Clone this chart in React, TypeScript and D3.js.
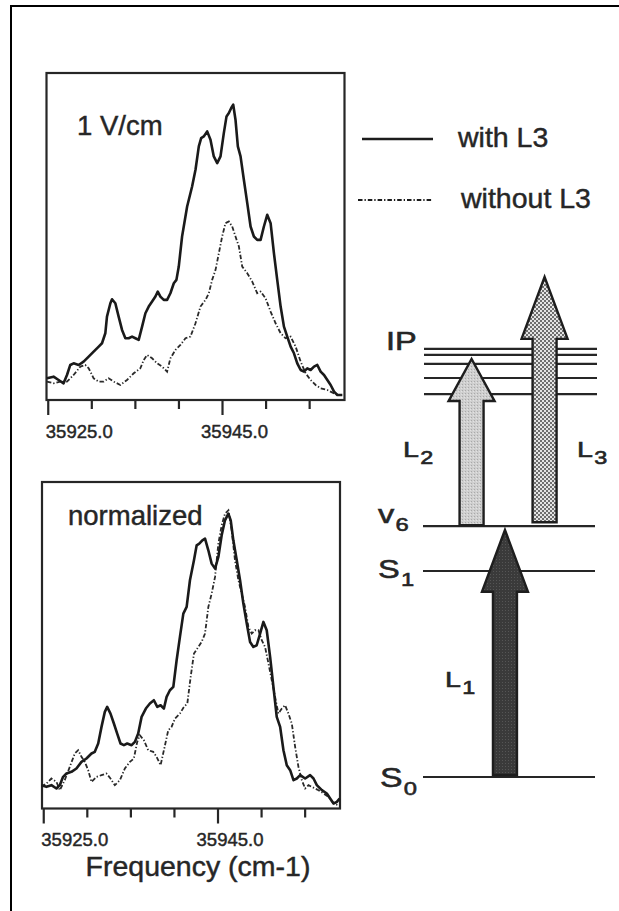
import React from "react";
import * as d3 from "d3";

// ---------- DATA ----------
// [frequency (cm-1), intensity (arb.)]
const topWithL3: [number, number][] = [
  [35924.85, 6.5], [35925.61, 7], [35926.19, 6], [35926.76, 5], [35927.15, 7.5], [35927.53, 10.5], [35927.91, 11], [35928.49, 10.5], [35929.06, 11.5], [35929.64, 13],
  [35930.21, 14.5], [35930.79, 16], [35931.17, 17], [35931.55, 20], [35931.74, 25], [35932.13, 29], [35932.32, 30.2], [35932.70, 29], [35933.08, 25], [35933.47, 21],
  [35933.85, 18.5], [35934.23, 18.5], [35934.62, 19], [35935.00, 18.5], [35935.38, 18], [35935.77, 22], [35936.15, 26], [35936.53, 28], [35936.92, 29.5], [35937.30, 31],
  [35937.57, 32.5], [35937.87, 31], [35938.26, 30], [35938.64, 30], [35939.02, 32], [35939.41, 35], [35939.71, 36], [35939.98, 40], [35940.36, 49], [35940.94, 58],
  [35941.51, 64], [35941.90, 69], [35942.28, 76], [35942.55, 78.5], [35942.85, 79], [35943.24, 80.5], [35943.62, 78], [35944.00, 73], [35944.39, 71], [35944.77, 73],
  [35945.15, 80], [35945.46, 85], [35945.73, 86], [35946.00, 87.5], [35946.23, 88.5], [35946.49, 84], [35946.76, 76], [35947.07, 73], [35947.45, 66], [35947.84, 59],
  [35948.22, 52], [35948.60, 49], [35948.98, 48], [35949.37, 48], [35949.75, 52], [35950.13, 55.5], [35950.52, 53], [35950.90, 44], [35951.28, 36], [35951.67, 28],
  [35952.05, 22], [35952.43, 19], [35952.82, 16], [35953.20, 14], [35953.58, 11], [35953.97, 9], [35954.35, 8.5], [35954.73, 9.5], [35955.11, 9], [35955.50, 10],
  [35955.88, 10.5], [35956.26, 8.5], [35956.65, 7.5], [35957.03, 6], [35957.41, 4.5], [35957.80, 2.5], [35958.18, 1.5], [35958.75, 1.5],
];

const topWithoutL3: [number, number][] = [
  [35924.85, 5.5], [35925.61, 5], [35926.38, 5.5], [35927.15, 5.5], [35927.91, 7.5], [35928.68, 10], [35929.25, 10.5], [35929.64, 9.5], [35930.21, 6.5], [35930.79, 5.5],
  [35931.36, 5.5], [35931.93, 6.5], [35932.51, 5.5], [35933.28, 4.5], [35934.04, 6], [35934.81, 8], [35935.57, 9.5], [35935.96, 12], [35936.34, 13.5], [35936.92, 12.5],
  [35937.49, 11], [35938.07, 10], [35938.64, 8.5], [35939.02, 12.5], [35939.60, 15], [35940.17, 16.5], [35940.75, 18.5], [35941.32, 19], [35941.90, 23], [35942.47, 28],
  [35943.05, 30], [35943.43, 32], [35943.81, 36], [35944.20, 39], [35944.58, 44], [35944.96, 49], [35945.34, 53], [35945.73, 53.5], [35946.11, 52], [35946.49, 49],
  [35946.88, 46], [35947.26, 40], [35947.84, 38], [35948.41, 35.5], [35948.98, 32], [35949.37, 32.5], [35949.94, 30.5], [35950.52, 26.5], [35951.09, 23], [35951.67, 20],
  [35952.24, 18.5], [35952.82, 19], [35953.39, 16], [35953.97, 11.5], [35954.54, 8], [35955.11, 6], [35955.69, 4.5], [35956.26, 3.5], [35957.03, 3], [35957.80, 2],
  [35958.37, 1.5],
];

const normWithL3: [number, number][] = [
  [35924.73, 7], [35925.31, 6.5], [35925.88, 7], [35926.46, 6], [35926.84, 7], [35927.22, 9.5], [35927.61, 10.5], [35928.18, 11], [35928.75, 12], [35929.33, 14],
  [35929.90, 15], [35930.48, 16.5], [35930.86, 17], [35931.25, 19.5], [35931.63, 24.5], [35932.01, 29], [35932.28, 30.5], [35932.66, 28.5], [35933.05, 25.5], [35933.43, 22.5],
  [35933.81, 19.5], [35934.20, 19], [35934.58, 19.5], [35935.08, 19], [35935.46, 20], [35935.84, 22.5], [35936.23, 27.5], [35936.72, 30], [35937.18, 31.5], [35937.64, 32.5],
  [35938.03, 30.5], [35938.41, 31], [35938.79, 30], [35939.10, 33.5], [35939.48, 35.5], [35939.87, 36.5], [35940.25, 44.5], [35940.63, 51.5], [35941.02, 58.5], [35941.40, 60.5],
  [35941.78, 68.5], [35942.24, 74.5], [35942.55, 79], [35942.85, 79.5], [35943.20, 80.5], [35943.51, 81], [35943.89, 77.5], [35944.27, 73.5], [35944.66, 72], [35945.04, 75.5],
  [35945.42, 82], [35945.80, 86.5], [35946.19, 88.5], [35946.46, 86.5], [35946.76, 80.5], [35947.15, 74.5], [35947.53, 68.5], [35947.91, 61.5], [35948.30, 55.5], [35948.68, 50],
  [35949.06, 48.5], [35949.44, 49], [35949.83, 52.5], [35950.21, 56], [35950.59, 53.5], [35950.98, 45.5], [35951.36, 36.5], [35951.74, 27.5], [35952.13, 24.5], [35952.51, 17.5],
  [35952.89, 13], [35953.28, 11.5], [35953.66, 8.5], [35954.04, 9], [35954.43, 10], [35955.00, 9], [35955.57, 10], [35955.96, 9], [35956.34, 7], [35956.92, 5.5],
  [35957.49, 4.5], [35957.87, 3], [35958.26, 1.5], [35958.64, 2], [35958.95, 3],
];

const normWithoutL3: [number, number][] = [
  [35924.73, 6.5], [35925.31, 7.5], [35925.88, 9], [35926.46, 8], [35926.84, 5.5], [35927.41, 8.5], [35927.99, 12.5], [35928.56, 16.5], [35928.95, 17.5], [35929.33, 15.5],
  [35929.71, 14], [35930.10, 11.5], [35930.48, 8], [35931.05, 9.5], [35931.63, 10], [35932.20, 10.5], [35932.66, 9], [35933.16, 7], [35933.74, 8.5], [35934.31, 12],
  [35934.89, 14], [35935.34, 15], [35935.73, 20], [35936.03, 22], [35936.49, 20.5], [35936.99, 17.5], [35937.57, 17], [35937.95, 15.5], [35938.41, 13], [35938.79, 17.5],
  [35939.29, 23.5], [35939.67, 24.5], [35940.06, 27], [35940.63, 28.5], [35941.09, 30.5], [35941.48, 31.5], [35941.86, 39.5], [35942.24, 46.5], [35942.62, 48], [35943.12, 50],
  [35943.51, 52.5], [35943.89, 60.5], [35944.27, 64.5], [35944.66, 69.5], [35945.04, 79.5], [35945.42, 85], [35945.80, 88.5], [35946.19, 89.5], [35946.57, 83.5], [35946.95, 74.5],
  [35947.34, 68.5], [35947.72, 64.5], [35948.10, 60.5], [35948.49, 54.5], [35948.87, 52.5], [35949.25, 53.5], [35949.64, 53.5], [35950.02, 50.5], [35950.40, 48.5], [35950.79, 43.5],
  [35951.17, 38.5], [35951.55, 33.5], [35951.93, 28.5], [35952.32, 30], [35952.70, 31], [35953.08, 28.5], [35953.47, 25.5], [35953.85, 18.5], [35954.23, 12.5], [35954.62, 8.5],
  [35955.00, 6], [35955.38, 7], [35955.77, 6.5], [35956.15, 6], [35956.53, 5.5], [35957.11, 4.5], [35957.68, 3.5], [35958.26, 1.5], [35958.83, 1],
];

const xTicks = [35925, 35930, 35935, 35940, 35945, 35950, 35955];
const xTickLabels = [35925, 35945];
const xDomain: [number, number] = [35924.8, 35959.0];
const yDomain: [number, number] = [0, 98];

const legendItems = ["with L3", "without L3"];

// energy-level diagram (arbitrary energy units, S0 = 0, S1 = 100)
const levels = [
  { name: "S", sub: "0", e: 0 },
  { name: "S", sub: "1", e: 100 },
  { name: "v", sub: "6", e: 121.8 },
];
const ipLevels = [185.9, 193.7, 200.5, 204.9, 207.8];
const arrows = [
  { name: "L", sub: "1", from: 1, to: 119.9, col: 46.8, fill: "url(#patL1)", head: 30 },
  { name: "L", sub: "2", from: 122.2, to: 202.9, col: 27.5, fill: "url(#patL2)", head: 20.4 },
  { name: "L", sub: "3", from: 123.7, to: 242.7, col: 69.7, fill: "url(#patL3)", head: 30 },
];

// ---------- LAYOUT / STYLE ----------
const FONT = "'Liberation Sans', Arial, Helvetica, sans-serif";
const INK = "#262626";
const PW = 298;
const TXT = { fontFamily: FONT, fill: INK, stroke: INK, strokeWidth: 0.45 } as const;

type Panel = {
  x0: number; y0: number; h: number; label: string; lx: number; ly: number; tly: number;
  solid: [number, number][]; dashed: [number, number][];
};
const panels: Panel[] = [
  { x0: 46.5, y0: 73, h: 327, label: "1 V/cm", lx: 30.5, ly: 62, tly: 38, solid: topWithL3, dashed: topWithoutL3 },
  { x0: 42, y0: 482, h: 326.5, label: "normalized", lx: 26, ly: 43, tly: 37, solid: normWithL3, dashed: normWithoutL3 },
];

const DASH = "4.5,2,1.3,2";

function PanelView({ p }: { p: Panel }) {
  const x = d3.scaleLinear().domain(xDomain).range([0, PW]);
  const y = d3.scaleLinear().domain(yDomain).range([p.h, 0]);
  const line = d3.line<[number, number]>().x((d) => x(d[0])).y((d) => y(d[1]));
  return (
    <g transform={`translate(${p.x0},${p.y0})`}>
      <rect x={0} y={0} width={PW} height={p.h} fill="none" stroke={INK} strokeWidth={2.2} />
      <path d={line(p.dashed) || ""} fill="none" stroke="#2a2a2a" strokeWidth={1.8} strokeDasharray={DASH} />
      <path d={line(p.solid) || ""} fill="none" stroke="#1a1a1a" strokeWidth={2.6} strokeLinejoin="round" />
      {xTicks.map((t) => {
        const long = xTickLabels.includes(t);
        return (
          <line key={t} x1={x(t)} x2={x(t)} y1={p.h} y2={p.h + (long ? 15 : 9)} stroke={INK} strokeWidth={2.2} />
        );
      })}
      {xTickLabels.map((t, i) => (
        <text key={t} x={x(t) + (i === 0 ? 31 : 12)} y={p.h + p.tly} textAnchor="middle" fontSize={18.5} {...TXT}>
          {t.toFixed(1)}
        </text>
      ))}
      <text x={p.lx} y={p.ly} fontSize={27.5} {...TXT}>{p.label}</text>
    </g>
  );
}

function StretchText({ x, y, main, sub, size, subSize, sx }: { x: number; y: number; main: string; sub?: string; size: number; subSize: number; sx: number }) {
  return (
    <g transform={`translate(${x},${y}) scale(${sx},1)`}>
      <text x={0} y={0} fontSize={size} {...TXT} strokeWidth={0.6}>
        {main}
        {sub ? <tspan dx={1} dy={size * 0.3} fontSize={subSize}>{sub}</tspan> : null}
      </text>
    </g>
  );
}

export default function App() {
  const eY = d3.scaleLinear().domain([0, 100]).range([777, 571]);
  const eX = d3.scaleLinear().domain([0, 100]).range([424, 597]);
  const shaftW = 24;
  const headW = 46;
  const arrowLine = d3.line<[number, number]>();

  const levelLabelPos: Record<string, { x: number; dy: number; size: number }> = {
    "0": { x: 380, dy: 10, size: 27 },
    "1": { x: 378, dy: 7, size: 26 },
    "6": { x: 378, dy: -3, size: 26 },
  };
  const arrowLabelPos: Record<string, { x: number; y: number }> = {
    "1": { x: 445, y: 687 },
    "2": { x: 403, y: 457 },
    "3": { x: 577, y: 457 },
  };

  return (
    <svg width={619} height={911} style={{ position: "absolute", left: 0, top: 0, background: "#fff" }}>
      <defs>
        <pattern id="patL2" width="3" height="3" patternUnits="userSpaceOnUse">
          <rect width="3" height="3" fill="#cfcfcf" />
          <rect x="0" y="0" width="1" height="1" fill="#a9a9a9" />
          <rect x="2" y="1" width="1" height="1" fill="#e2e2e2" />
        </pattern>
        <pattern id="patL3" width="4" height="4" patternUnits="userSpaceOnUse">
          <rect width="4" height="4" fill="#e4e4e4" />
          <rect x="0" y="0" width="2" height="2" fill="#6e6e6e" />
          <rect x="2" y="2" width="2" height="2" fill="#6e6e6e" />
        </pattern>
        <pattern id="patL1" width="3" height="3" patternUnits="userSpaceOnUse">
          <rect width="3" height="3" fill="#3a3a3a" />
          <rect x="1" y="1" width="1" height="1" fill="#555" />
        </pattern>
      </defs>

      {/* outer frame (top and left edges) */}
      <line x1={10} x2={619} y1={6} y2={6} stroke="#000" strokeWidth={2} />
      <line x1={11} x2={11} y1={5} y2={911} stroke="#000" strokeWidth={2} />

      {panels.map((p, i) => <PanelView key={i} p={p} />)}

      <text x={198} y={876} textAnchor="middle" fontSize={28.5} {...TXT}>Frequency (cm-1)</text>

      {/* legend */}
      {legendItems.map((name, i) => (
        <g key={name}>
          <line x1={i === 0 ? 362 : 358} x2={433} y1={139 + i * 61} y2={139 + i * 61} stroke="#1c1c1c"
            strokeWidth={i === 0 ? 2.6 : 1.8} strokeDasharray={i === 0 ? undefined : DASH} />
          <text x={i === 0 ? 458 : 461} y={147 + i * 61} fontSize={28.5} {...TXT}>{name}</text>
        </g>
      ))}

      {/* energy levels */}
      {levels.map((l) => (
        <line key={l.sub} x1={eX(0) - 1} x2={eX(100) - 2} y1={eY(l.e)} y2={eY(l.e)} stroke={INK} strokeWidth={2.2} />
      ))}
      {ipLevels.map((e) => (
        <line key={e} x1={eX(0)} x2={eX(100)} y1={eY(e)} y2={eY(e)} stroke={INK} strokeWidth={2.2} />
      ))}
      {arrows.map((a) => {
        const cx = eX(a.col);
        const yb = eY(a.from);
        const yt = eY(a.to);
        const yh = yt + (eY(0) - eY(a.head));
        const pts: [number, number][] = [
          [cx - shaftW / 2, yb], [cx - shaftW / 2, yh], [cx - headW / 2, yh], [cx, yt],
          [cx + headW / 2, yh], [cx + shaftW / 2, yh], [cx + shaftW / 2, yb],
        ];
        return (
          <path key={a.sub} d={(arrowLine(pts) || "") + "Z"} fill={a.fill} stroke="#1e1e1e" strokeWidth={2.4} strokeLinejoin="miter" />
        );
      })}
      {levels.map((l) => {
        const pos = levelLabelPos[l.sub];
        return <StretchText key={l.sub} x={pos.x} y={eY(l.e) + pos.dy} main={l.name} sub={l.sub} size={pos.size} subSize={19} sx={1.25} />;
      })}
      <StretchText x={386} y={eY(ipLevels[ipLevels.length - 1]) + 1} main="IP" size={25} subSize={18} sx={1.3} />
      {arrows.map((a) => {
        const pos = arrowLabelPos[a.sub];
        return <StretchText key={a.sub} x={pos.x} y={pos.y} main={a.name} sub={a.sub} size={22} subSize={18} sx={1.3} />;
      })}
    </svg>
  );
}
